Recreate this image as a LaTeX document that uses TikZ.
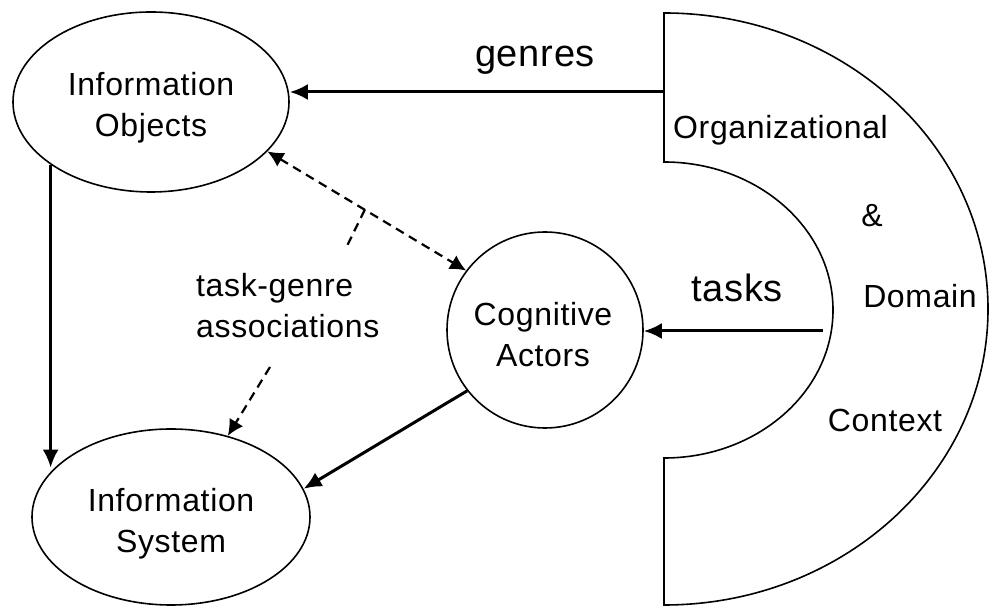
\documentclass[tikz,border=0pt]{standalone}
\usepackage{fontspec}
\setmainfont{Liberation Sans}[LetterSpace=2]
\usetikzlibrary{arrows.meta,shapes.geometric}

\begin{document}
\begin{tikzpicture}[x=1pt,y=1pt,
  shape outline/.style={draw=black, line width=1.6pt},
  ell/.style={shape outline, ellipse, inner sep=0pt},
  txt/.style={inner sep=0pt, font=\fontsize{32}{41}\selectfont, align=center},
  bigtxt/.style={inner sep=0pt, font=\fontsize{38}{44}\selectfont},
  arr/.style={line width=3pt, -{Latex[length=18pt,width=16pt]}},
  dasharr/.style={line width=2.2pt, dash pattern=on 9pt off 6pt,
                  {Latex[length=16pt,width=16pt]}-{Latex[length=16pt,width=16pt]}},
  dashline/.style={line width=2.2pt, dash pattern=on 9pt off 6pt},
  dashtip/.style={dashline, -{Latex[length=16pt,width=16pt]}}]
\useasboundingbox (0,0) rectangle (992,607);

% context shape: outer half ellipse with an inner half-ellipse notch
\path[shape outline] (664,594) -- (664,445)
  arc[start angle=90, end angle=-90, x radius=169, y radius=148]
  -- (664,2)
  arc[start angle=-90, end angle=90, x radius=324, y radius=296]
  -- cycle;

% main entities
\node[ell, minimum width=276pt, minimum height=180pt] (io) at (151,505) {};
\node[ell, minimum width=278pt, minimum height=176pt] (is) at (171,90) {};
\node[shape outline, circle, inner sep=0pt, minimum size=196pt] (ca) at (545,277) {};

\node[txt] (iot) at (151,499) {Information\\Objects};
\node[txt] (ist) at (171,83) {Information\\System};
\node[txt] (cat) at (543,272) {Cognitive\\Actors};

% context labels
\node[txt, anchor=base west] (org) at (673,468) {Organizational};
\node[txt] (amp) at (872,391) {\&};
\node[txt] (dom) at (920,311) {Domain};
\node[txt] (ctx) at (885,187) {Context};

% flows out of the context
\coordinate (gs) at (664,515);
\draw[arr] (gs) -- (gs -| io.east);
\node[bigtxt, anchor=base] (gen) at (535,540) {genres};

\coordinate (ts) at (823,276);
\draw[arr] (ts) -- (ts -| ca.east);
\node[bigtxt, anchor=base] (tsk) at (737,305) {tasks};

% solid links between entities
\draw[arr] (io.212.5) -- (io.212.5 |- is.157);
\draw[arr] (ca.218) -- (is.12);

% task-genre associations
\draw[dasharr] (io.-23) -- coordinate[pos=.49] (jn) (ca.143);
\coordinate (bn) at (345,357);
\draw[dashline] (jn) -- (bn);
\node[txt, align=left, anchor=west] (tg) at (196,301) {task-genre\\associations};
\coordinate (tgs) at (270,240);
\draw[dashtip] (tgs) -- (is.55);
\end{tikzpicture}
\end{document}
